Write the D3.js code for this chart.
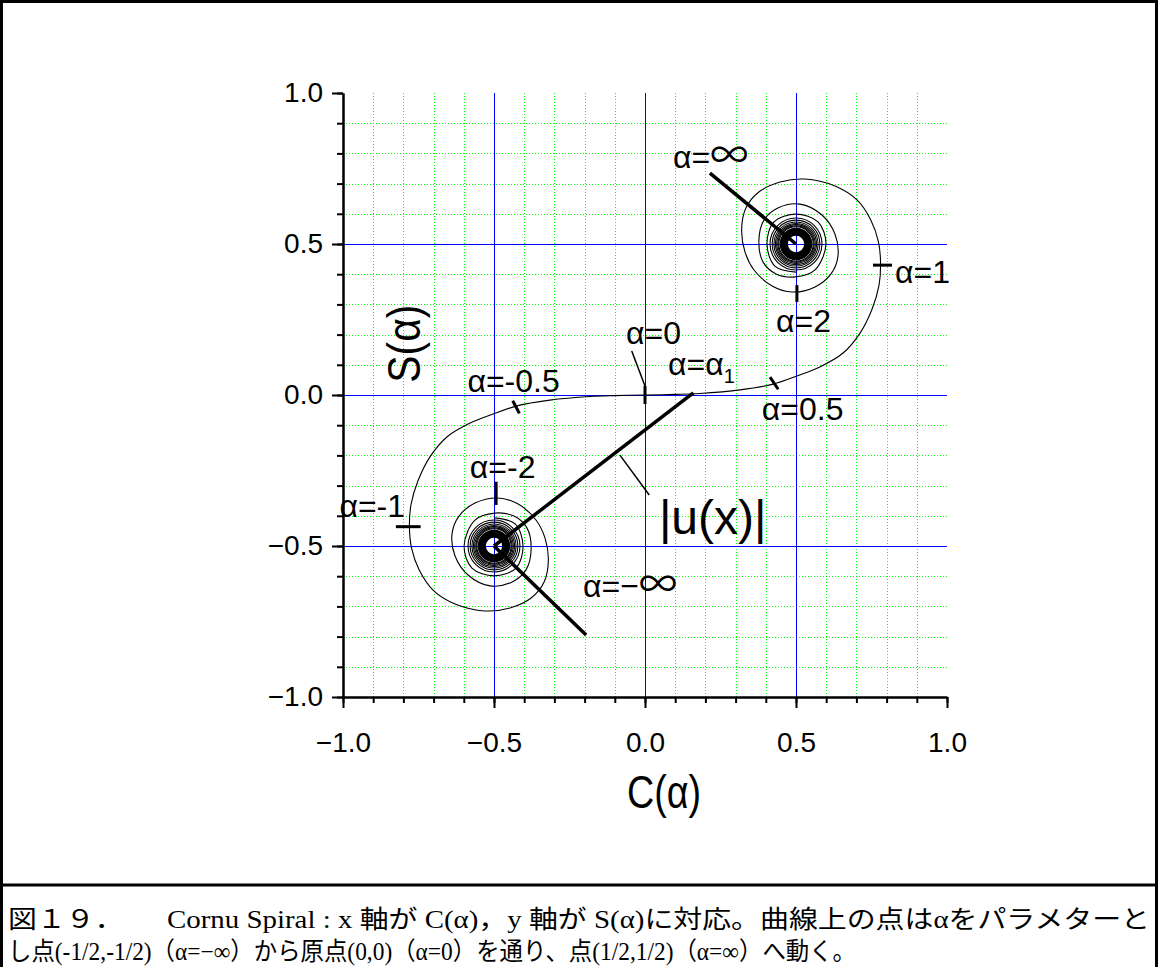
<!DOCTYPE html>
<meta charset="utf-8">
<style>
    body{ margin:0; background:#fff; }
    svg{ display:block; }
    .tick text{ font-family:"Liberation Sans", Arial, sans-serif; font-size:28px; fill:#000; }
    .note{ font-family:"Liberation Sans", Arial, sans-serif; font-size:32px; fill:#000; }
    .inf{ font-family:"Noto Sans CJK JP", sans-serif; font-size:38px; }
    .title{ font-family:"Liberation Sans", Arial, sans-serif; font-size:46px; fill:#000; }
    .caption{ font-family:"Liberation Serif","Noto Sans CJK JP", serif; font-size:25px; fill:#000; }
    .grid{ shape-rendering:crispEdges; }
</style>
<body>
<svg id="chart" width="1158" height="967"></svg>
<script src="https://d3js.org/d3.v7.min.js"></script>
<script>
// ---- values (data units) ----
// spiral, alpha >= 0 : from the origin round into the upper eye
var upperC = [0, 0.099, 0.182, 0.315, 0.424, 0.503, 0.579, 0.656, 0.712, 0.752, 0.775, 0.780, 0.773, 0.748, 0.702, 0.629,
              0.530, 0.447, 0.377, 0.334, 0.320, 0.331, 0.361, 0.421, 0.487, 0.563, 0.616, 0.639, 0.629, 0.586, 0.513,
              0.440, 0.394, 0.377, 0.391, 0.434, 0.497, 0.563, 0.599, 0.573, 0.500, 0.427, 0.404, 0.430, 0.500];
var upperS = [0, 0.002, 0.005, 0.017, 0.036, 0.063, 0.093, 0.139, 0.205, 0.285, 0.364, 0.437, 0.507, 0.579, 0.646, 0.692,
              0.715, 0.705, 0.672, 0.619, 0.546, 0.474, 0.414, 0.361, 0.341, 0.358, 0.401, 0.460, 0.533, 0.596, 0.632,
              0.619, 0.579, 0.510, 0.440, 0.401, 0.391, 0.414, 0.500, 0.573, 0.599, 0.573, 0.500, 0.427, 0.407];
// spiral, alpha <= 0 : from the origin round into the lower eye
var lowerC = [0, -0.099, -0.182, -0.315, -0.424, -0.503, -0.579, -0.656, -0.712, -0.752, -0.775, -0.780, -0.773, -0.748, -0.702, -0.629,
              -0.530, -0.447, -0.377, -0.334, -0.320, -0.331, -0.361, -0.420, -0.487, -0.563, -0.616, -0.639, -0.629, -0.586, -0.513,
              -0.440, -0.394, -0.377, -0.391, -0.434, -0.497, -0.563, -0.599, -0.573, -0.500, -0.427, -0.404, -0.430, -0.500];
var lowerS = [0, -0.002, -0.005, -0.017, -0.036, -0.063, -0.093, -0.139, -0.205, -0.285, -0.364, -0.437, -0.507, -0.579, -0.646, -0.692,
              -0.715, -0.705, -0.672, -0.619, -0.546, -0.474, -0.414, -0.361, -0.341, -0.358, -0.401, -0.460, -0.533, -0.596, -0.632,
              -0.619, -0.579, -0.510, -0.440, -0.401, -0.391, -0.414, -0.500, -0.573, -0.599, -0.573, -0.500, -0.427, -0.407];

// the two eyes: tight windings seen as rings, plus the solid black core
var eyeC = [0.5, -0.5];
var eyeS = [0.5, -0.5];
var ringRadii = [0.086, 0.079, 0.073, 0.068, 0.064, 0.060, 0.057];
var coreInner = 0.027, coreOuter = 0.054;

// short marks across the curve at given alpha
var markC1 = [-0.493, -0.825, -0.438, 0, 0.414, 0.755, 0.503];
var markS1 = [-0.287, -0.436, -0.019, 0.03, 0.059, 0.430, 0.364];
var markC2 = [-0.493, -0.743, -0.416, 0, 0.441, 0.818, 0.503];
var markS2 = [-0.364, -0.436, -0.061, -0.03, 0.019, 0.430, 0.308];

// pointer lines: alpha=inf, alpha=-inf, |u(x)|, and thin leaders
var thickC1 = [0.215, -0.5, -0.5];
var thickS1 = [0.735, -0.5, -0.5];
var thickC2 = [0.5, -0.195, 0.160];
var thickS2 = [0.5, -0.795, 0.007];
var thinC1 = [-0.044, -0.083];
var thinS1 = [0.146, -0.199];
var thinC2 = [0, 0.014];
var thinS2 = [0.030, -0.331];

// annotation texts, left edge and baseline in data units
var noteText = ["α=1", "α=2", "α=0", "α=-0.5", "α=0.5", "α=-2", "α=-1"];
var noteC = [0.828, 0.434, -0.063, -0.588, 0.387, -0.580, -1.012];
var noteS = [0.371, 0.209, 0.168, 0.011, -0.083, -0.276, -0.403];
var infC = [0.093, -0.205];
var infS = [0.753, -0.669];
var infSign = ["", "−"];

var xMajor = [-1, -0.5, 0, 0.5, 1];
var yMajor = [-1, -0.5, 0, 0.5, 1];
var minorStep = [-1, -0.9, -0.8, -0.7, -0.6, -0.5, -0.4, -0.3, -0.2, -0.1, 0, 0.1, 0.2, 0.3, 0.4, 0.5, 0.6, 0.7, 0.8, 0.9, 1];
var blueLines = [-0.5, 0, 0.5];

var caption1 = "図１９．　　Cornu Spiral : x 軸が C(α)，y 軸が S(α)に対応。曲線上の点はαをパラメターと";
var caption2 = "し点(-1/2,-1/2)（α=−∞）から原点(0,0)（α=0）を通り、点(1/2,1/2)（α=∞）へ動く。";

// ---- drawing ----
var svg = d3.select("#chart");
var x = d3.scaleLinear().domain([-1, 1]).range([343, 947]);
var y = d3.scaleLinear().domain([-1, 1]).range([697, 93]);

// frame round the figure and the caption
svg.append("rect").attr("x", 1.5).attr("y", 1.5).attr("width", 1155).attr("height", 980)
    .attr("fill", "none").attr("stroke", "#000").attr("stroke-width", 3);
svg.append("line").attr("x1", 0).attr("x2", 1158).attr("y1", 885).attr("y2", 885)
    .attr("stroke", "#000").attr("stroke-width", 3);

// green dotted grid
var gridVals = minorStep.filter(function(v){ return Math.abs(v) < 0.99 && blueLines.indexOf(v) < 0; });
svg.append("g").attr("class", "grid").selectAll("line").data(gridVals).enter().append("line")
    .attr("x1", function(d){ return x(d) + 0.5; }).attr("x2", function(d){ return x(d) + 0.5; })
    .attr("y1", y(1)).attr("y2", y(-1))
    .attr("stroke", "#00ff00").attr("stroke-width", 1).attr("stroke-dasharray", "1,2");
svg.append("g").attr("class", "grid").selectAll("line").data(gridVals).enter().append("line")
    .attr("y1", function(d){ return y(d) + 0.5; }).attr("y2", function(d){ return y(d) + 0.5; })
    .attr("x1", x(-1)).attr("x2", x(1))
    .attr("stroke", "#00ff00").attr("stroke-width", 1).attr("stroke-dasharray", "1,2");

// blue lines at 0 and +-0.5
svg.append("g").attr("class", "grid").selectAll("line").data(blueLines).enter().append("line")
    .attr("x1", function(d){ return x(d) + 0.5; }).attr("x2", function(d){ return x(d) + 0.5; })
    .attr("y1", y(1)).attr("y2", y(-1)).attr("stroke", "#0000ff").attr("stroke-width", 1);
svg.append("g").attr("class", "grid").selectAll("line").data(blueLines).enter().append("line")
    .attr("y1", function(d){ return y(d) + 0.5; }).attr("y2", function(d){ return y(d) + 0.5; })
    .attr("x1", x(-1)).attr("x2", x(1)).attr("stroke", "#0000ff").attr("stroke-width", 1);

// the spiral
var line = d3.line()
    .x(function(d){ return x(d[0]); })
    .y(function(d){ return y(d[1]); })
    .curve(d3.curveCatmullRom.alpha(0.5));
[[upperC, upperS], [lowerC, lowerS]].forEach(function(br){
    var pts = br[0].map(function(c, i){ return [c, br[1][i]]; });
    svg.append("path").datum(pts).attr("d", line)
        .attr("fill", "none").attr("stroke", "#000").attr("stroke-width", 1.1);
});

var r = function(v){ return x(v) - x(0); };
eyeC.forEach(function(c, k){
    svg.append("g").selectAll("circle").data(ringRadii).enter().append("circle")
        .attr("cx", x(c)).attr("cy", y(eyeS[k])).attr("r", function(d){ return r(d); })
        .attr("fill", "none").attr("stroke", "#000").attr("stroke-width", 1.1);
    svg.append("circle").attr("cx", x(c)).attr("cy", y(eyeS[k]))
        .attr("r", r((coreInner + coreOuter) / 2))
        .attr("fill", "none").attr("stroke", "#000").attr("stroke-width", r(coreOuter - coreInner));
});

// marks across the curve
svg.append("g").selectAll("line").data(markC1).enter().append("line")
    .attr("x1", function(d){ return x(d); }).attr("y1", function(d, i){ return y(markS1[i]); })
    .attr("x2", function(d, i){ return x(markC2[i]); }).attr("y2", function(d, i){ return y(markS2[i]); })
    .attr("stroke", "#000").attr("stroke-width", 3);

// pointer lines
svg.append("g").selectAll("line").data(thickC1).enter().append("line")
    .attr("x1", function(d){ return x(d); }).attr("y1", function(d, i){ return y(thickS1[i]); })
    .attr("x2", function(d, i){ return x(thickC2[i]); }).attr("y2", function(d, i){ return y(thickS2[i]); })
    .attr("stroke", "#000").attr("stroke-width", 3.5);
svg.append("g").selectAll("line").data(thinC1).enter().append("line")
    .attr("x1", function(d){ return x(d); }).attr("y1", function(d, i){ return y(thinS1[i]); })
    .attr("x2", function(d, i){ return x(thinC2[i]); }).attr("y2", function(d, i){ return y(thinS2[i]); })
    .attr("stroke", "#000").attr("stroke-width", 1.5);

// annotation texts
svg.append("g").selectAll("text").data(noteText).enter().append("text")
    .attr("class", "note")
    .attr("x", function(d, i){ return x(noteC[i]); })
    .attr("y", function(d, i){ return y(noteS[i]); })
    .text(function(d){ return d; });
infC.forEach(function(c, i){
    var t = svg.append("text").attr("class", "note").attr("x", x(c)).attr("y", y(infS[i]));
    t.append("tspan").text("α=" + infSign[i]);
    t.append("tspan").attr("class", "inf").text("∞");
});
var a1 = svg.append("text").attr("class", "note").attr("x", x(0.076)).attr("y", y(0.066));
a1.append("tspan").text("α=α");
a1.append("tspan").attr("dy", 8).style("font-size", "20px").text("1");
svg.append("text").attr("class", "note").attr("x", x(0.046)).attr("y", y(-0.460))
    .style("font-size", "48px").text("|u(x)|");

// axes
var fmt = d3.format(".1f");
svg.append("g").attr("transform", "translate(0," + y(-1) + ")")
    .call(d3.axisBottom(x).tickValues(minorStep).tickSize(6).tickSizeOuter(0).tickFormat(""));
svg.append("g").attr("transform", "translate(0," + y(-1) + ")")
    .call(d3.axisBottom(x).tickValues(xMajor).tickSize(11).tickSizeOuter(0).tickPadding(24).tickFormat(fmt));
svg.append("g").attr("transform", "translate(" + x(-1) + ",0)")
    .call(d3.axisLeft(y).tickValues(minorStep).tickSize(6).tickSizeOuter(0).tickFormat(""));
svg.append("g").attr("transform", "translate(" + x(-1) + ",0)")
    .call(d3.axisLeft(y).tickValues(yMajor).tickSize(11).tickSizeOuter(0).tickPadding(9).tickFormat(fmt));
svg.selectAll(".domain, .tick line").attr("stroke", "#000").attr("stroke-width", 2);

svg.append("text").attr("class", "title").attr("text-anchor", "middle")
    .attr("x", x(0.063)).attr("y", 808)
    .attr("textLength", 74).attr("lengthAdjust", "spacingAndGlyphs").text("C(α)");
svg.append("text").attr("class", "title").attr("text-anchor", "middle")
    .attr("transform", "translate(420," + y(0.17) + ") rotate(-90)")
    .attr("textLength", 78).attr("lengthAdjust", "spacingAndGlyphs").text("S(α)");

// caption
svg.append("text").attr("class", "caption").attr("x", 8).attr("y", 928)
    .attr("textLength", 1142).attr("lengthAdjust", "spacingAndGlyphs").text(caption1);
svg.append("text").attr("class", "caption").attr("x", 8).attr("y", 960)
    .attr("textLength", 848).attr("lengthAdjust", "spacingAndGlyphs").text(caption2);
</script>
</body>
